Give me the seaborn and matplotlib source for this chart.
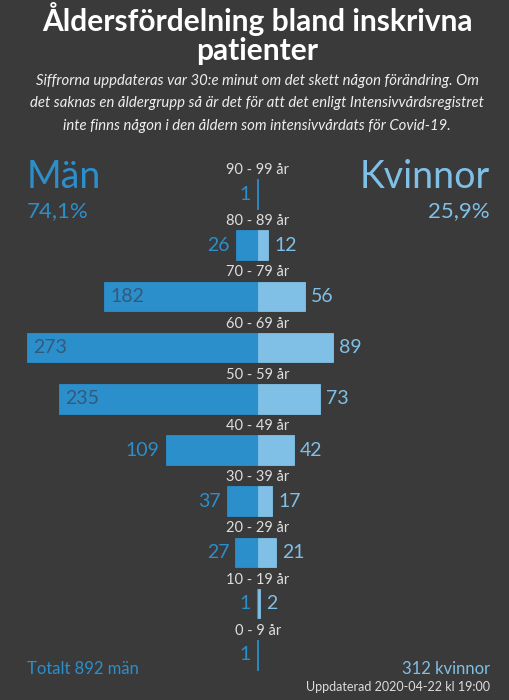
import numpy as np
import pandas as pd
import matplotlib.pyplot as plt
import seaborn as sns

# data
ages = ['90 - 99 år', '80 - 89 år', '70 - 79 år', '60 - 69 år', '50 - 59 år',
        '40 - 49 år', '30 - 39 år', '20 - 29 år', '10 - 19 år', '0 - 9 år']
men = [1, 26, 182, 273, 235, 109, 37, 27, 1, 1]
women = [0, 12, 56, 89, 73, 42, 17, 21, 2, 0]

bg = '#3a3a3a'
c_men = '#2b8fcc'
c_women = '#80c0e6'
c_inside = '#35597a'
c_age = '#dedede'

W, H = 509, 700
sns.set_style('white')
plt.rcParams['font.family'] = ['Lato', 'DejaVu Sans']

df = pd.DataFrame({'age': ages, 'men': men, 'women': women})
df['men_neg'] = -df['men']

fig = plt.figure(figsize=(W / 100, H / 100), dpi=100, facecolor=bg)
ax = fig.add_axes([0, 0, 1, 1])
ax.set_facecolor(bg)

sns.barplot(data=df, x='men_neg', y='age', order=ages, orient='h',
            color=c_men, saturation=1, width=0.58, linewidth=0.6,
            edgecolor=c_men, ax=ax)
sns.barplot(data=df[df['women'] > 0], x='women', y='age', order=ages, orient='h',
            color=c_women, saturation=1, width=0.58, linewidth=0.6,
            edgecolor=c_women, ax=ax)

# map pixels: centre at x=258, 0.846 px per patient, rows 51.2 px apart
scale = 0.846
ax.set_xlim(-258 / scale, (W - 258) / scale)
ax.set_ylim((H - 194) / 51.2, -194 / 51.2)
ax.axis('off')

def px(x):
    return x / W

def py(y):
    return 1 - y / H

for i, (a, m, w) in enumerate(zip(ages, men, women)):
    ax.text(0, i - 0.47, a, ha='center', va='center', fontsize=10.5, color=c_age)
    if m >= 150:
        ax.text(-m + 6 / scale, i, str(m), ha='left', va='center',
                fontsize=14, color=c_inside)
    elif m > 0:
        ax.text(-m - 6 / scale, i, str(m), ha='right', va='center',
                fontsize=14, color=c_men)
    if w > 0:
        ax.text(w + 6 / scale, i, str(w), ha='left', va='center',
                fontsize=14, color=c_women)

tot_m = sum(men)
tot_w = sum(women)
pct_m = f"{100 * tot_m / (tot_m + tot_w):.1f}%".replace('.', ',')
pct_w = f"{100 * tot_w / (tot_m + tot_w):.1f}%".replace('.', ',')

fig.text(px(257), py(19), 'Åldersfördelning bland inskrivna', ha='center', va='center',
         fontsize=21.5, fontweight='bold', color='white')
fig.text(px(257), py(51), 'patienter', ha='center', va='center',
         fontsize=21.5, fontweight='bold', color='white')
subtitle = ['Siffrorna uppdateras var 30:e minut om det skett någon förändring. Om',
            'det saknas en åldergrupp så är det för att det enligt Intensivvårdsregistret',
            'inte finns någon i den åldern som intensivvårdats för Covid-19.']
for yy, line in zip([81, 103, 126], subtitle):
    fig.text(px(257), py(yy), line, ha='center', va='center', fontsize=10.7,
             style='italic', color='#eeeeee')

fig.text(px(27), py(177), 'Män', ha='left', va='center', fontsize=27, color=c_men)
fig.text(px(27), py(211), pct_m, ha='left', va='center', fontsize=16, color=c_men)
fig.text(px(490), py(177), 'Kvinnor', ha='right', va='center', fontsize=27, color=c_women)
fig.text(px(490), py(211), pct_w, ha='right', va='center', fontsize=16, color=c_women)

fig.text(px(27), py(669), f'Totalt {tot_m} män', ha='left', va='center',
         fontsize=12, color=c_men)
fig.text(px(490), py(669), f'{tot_w} kvinnor', ha='right', va='center',
         fontsize=12, color=c_women)
fig.text(px(490), py(687), 'Uppdaterad 2020-04-22 kl 19:00', ha='right', va='center',
         fontsize=9, color='#dddddd')

plt.savefig('out.png', dpi=100, facecolor=bg)
